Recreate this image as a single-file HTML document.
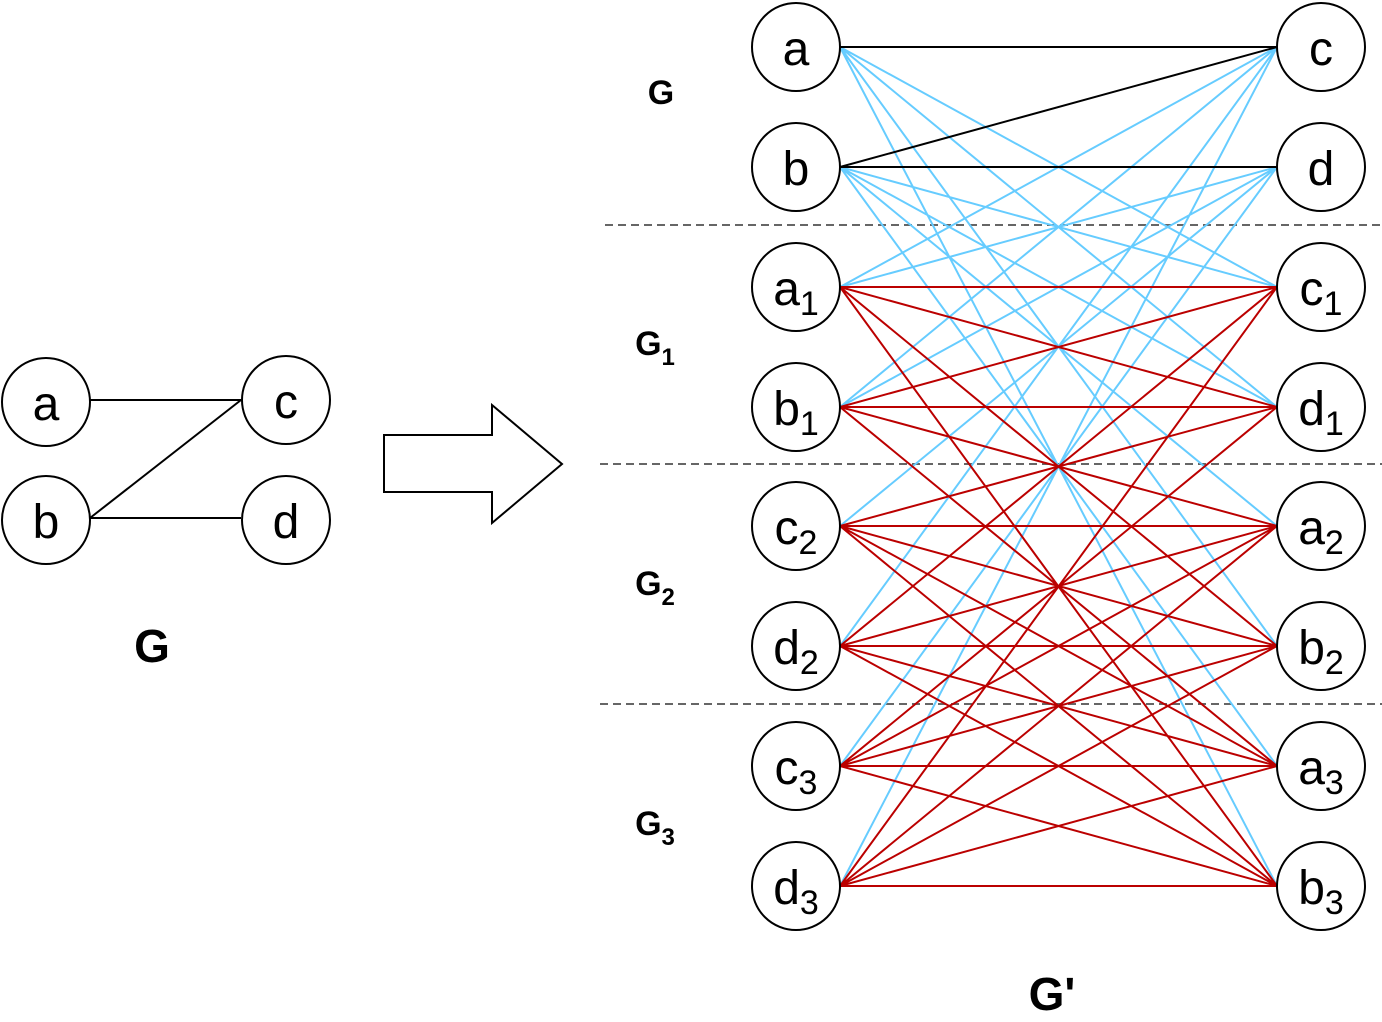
<!DOCTYPE html>
<html><head><style>body{margin:0;background:#fff}</style></head><body>
<svg width="1382" height="1017" xmlns="http://www.w3.org/2000/svg" font-family="Liberation Sans, Arial, sans-serif">
<g stroke="#666" stroke-width="2" stroke-dasharray="8,5">
<line x1="605" y1="225" x2="1382" y2="225"/><line x1="600" y1="464" x2="1382" y2="464"/><line x1="600" y1="704" x2="1382" y2="704"/>
</g>
<path fill="none" stroke="#66ccff" stroke-width="2" d="
M840 47L1277 287M840 47L1277 407M840 47L1277 646M840 47L1277 886
M840 167L1277 287M840 167L1277 407M840 167L1277 526M840 167L1277 766
M840 287L1277 47M840 407L1277 47M840 646L1277 47M840 886L1277 47
M840 287L1277 167M840 407L1277 167M840 526L1277 167M840 766L1277 167"/>
<path fill="none" stroke="#bb0000" stroke-width="2" d="
M840 287L1277 287M840 287L1277 407M840 407L1277 287M840 407L1277 407
M840 526L1277 526M840 526L1277 646M840 646L1277 526M840 646L1277 646
M840 766L1277 766M840 766L1277 886M840 886L1277 766M840 886L1277 886
M840 287L1277 646M840 287L1277 886M840 407L1277 526M840 407L1277 766
M840 526L1277 407M840 526L1277 766M840 526L1277 886
M840 646L1277 287M840 646L1277 766M840 646L1277 886
M840 766L1277 407M840 766L1277 526M840 766L1277 646
M840 886L1277 287M840 886L1277 526M840 886L1277 646"/>
<path fill="none" stroke="#000" stroke-width="2" d="M840 47L1277 47M840 167L1277 47M840 167L1277 167"/>
<g stroke="#000" stroke-width="2" fill="#fff">
<line x1="90" y1="400" x2="241" y2="400"/><line x1="90" y1="518" x2="241" y2="400"/><line x1="90" y1="518" x2="241" y2="518"/>
<circle cx="46" cy="402" r="44"/><circle cx="46" cy="520" r="44"/><circle cx="286" cy="400" r="44"/><circle cx="286" cy="520" r="44"/>
<polygon points="384,435 492,435 492,405 562,464 492,523 492,492 384,492"/>
<circle cx="796" cy="47" r="44"/><circle cx="796" cy="167" r="44"/><circle cx="796" cy="287" r="44"/><circle cx="796" cy="407" r="44"/>
<circle cx="796" cy="526" r="44"/><circle cx="796" cy="646" r="44"/><circle cx="796" cy="766" r="44"/><circle cx="796" cy="886" r="44"/>
<circle cx="1321" cy="47" r="44"/><circle cx="1321" cy="167" r="44"/><circle cx="1321" cy="287" r="44"/><circle cx="1321" cy="407" r="44"/>
<circle cx="1321" cy="526" r="44"/><circle cx="1321" cy="646" r="44"/><circle cx="1321" cy="766" r="44"/><circle cx="1321" cy="886" r="44"/>
</g>
<g font-size="48" text-anchor="middle">
<text x="46" y="420">a</text><text x="46" y="538">b</text><text x="286" y="418">c</text><text x="286" y="538">d</text>
<text x="796" y="65">a</text><text x="796" y="185">b</text>
<text x="1321" y="65">c</text><text x="1321" y="185">d</text>
<text x="796" y="305">a<tspan font-size="34" dy="10">1</tspan></text>
<text x="796" y="425">b<tspan font-size="34" dy="10">1</tspan></text>
<text x="796" y="544">c<tspan font-size="34" dy="10">2</tspan></text>
<text x="796" y="664">d<tspan font-size="34" dy="10">2</tspan></text>
<text x="796" y="784">c<tspan font-size="34" dy="10">3</tspan></text>
<text x="796" y="904">d<tspan font-size="34" dy="10">3</tspan></text>
<text x="1321" y="305">c<tspan font-size="34" dy="10">1</tspan></text>
<text x="1321" y="425">d<tspan font-size="34" dy="10">1</tspan></text>
<text x="1321" y="544">a<tspan font-size="34" dy="10">2</tspan></text>
<text x="1321" y="664">b<tspan font-size="34" dy="10">2</tspan></text>
<text x="1321" y="784">a<tspan font-size="34" dy="10">3</tspan></text>
<text x="1321" y="904">b<tspan font-size="34" dy="10">3</tspan></text>
</g>
<g font-weight="bold" text-anchor="middle">
<text x="152" y="662" font-size="46">G</text>
<text x="1052" y="1010" font-size="46">G'</text>
<text x="661" y="104" font-size="34">G</text>
<text x="655" y="355" font-size="34">G<tspan font-size="24" dy="10">1</tspan></text>
<text x="655" y="595" font-size="34">G<tspan font-size="24" dy="10">2</tspan></text>
<text x="655" y="835" font-size="34">G<tspan font-size="24" dy="10">3</tspan></text>
</g>
</svg>
</body></html>
